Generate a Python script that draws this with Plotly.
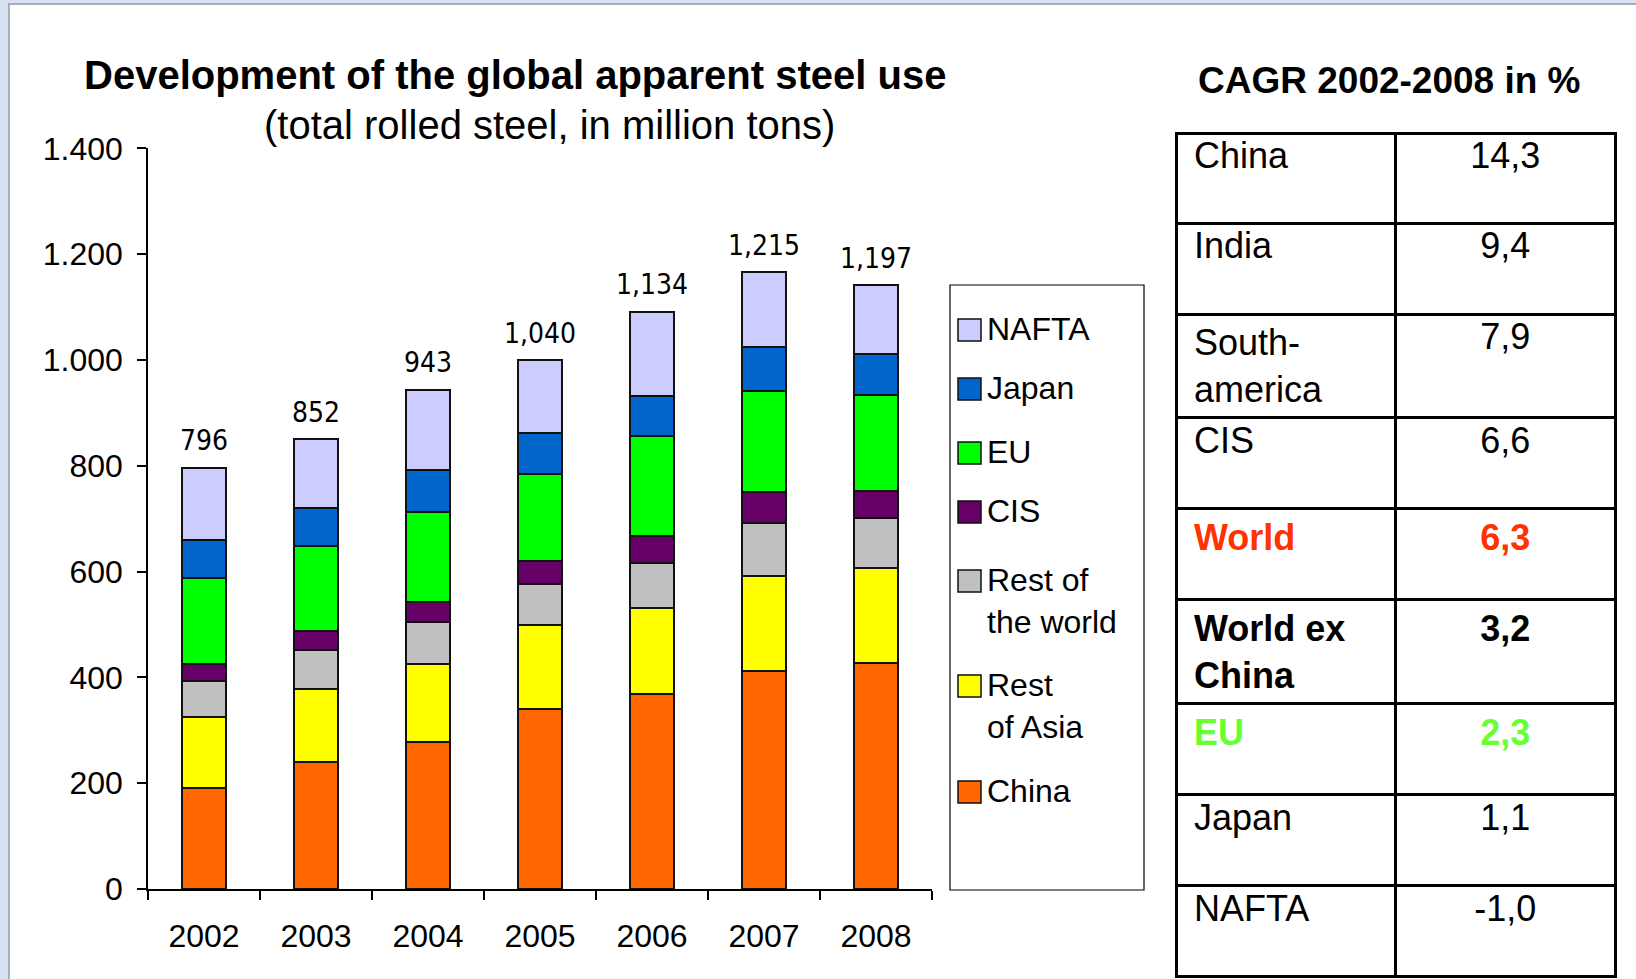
import plotly.graph_objects as go

# ---------------- data ----------------
years = ["2002", "2003", "2004", "2005", "2006", "2007", "2008"]
china = [191, 240, 277, 341, 369, 412, 427]
rest_of_asia = [135, 139, 149, 158, 162, 179, 179]
rest_of_world = [67, 72, 79, 78, 86, 100, 96]
cis = [33, 37, 38, 43, 50, 59, 51]
eu = [162, 160, 170, 165, 190, 192, 181]
japan = [71, 72, 79, 77, 75, 83, 77]
nafta = [137, 130, 152, 138, 159, 141, 130]
total_labels = ["796", "852", "943", "1,040", "1,134", "1,215", "1,197"]

y_tick_vals = [0, 200, 400, 600, 800, 1000, 1200, 1400]
y_tick_text = ["0", "200", "400", "600", "800", "1.000", "1.200", "1.400"]

series_names = ["China", "Rest<br>of Asia", "Rest of<br>the world", "CIS", "EU", "Japan", "NAFTA"]
series_values = [china, rest_of_asia, rest_of_world, cis, eu, japan, nafta]
series_colors = ["#FF6600", "#FFFF00", "#C0C0C0", "#660066", "#00FF00", "#0066CC", "#CCCCFF"]

cagr_title = "CAGR 2002-2008 in %"
cagr_regions = ["China", "India", "South-<br>america", "CIS", "World", "World ex<br>China", "EU", "Japan", "NAFTA"]
cagr_values = ["14,3", "9,4", "7,9", "6,6", "6,3", "3,2", "2,3", "1,1", "-1,0"]
cagr_bold = [False, False, False, False, True, True, True, False, False]
cagr_colors = ["#000000", "#000000", "#000000", "#000000", "#FF3300", "#000000", "#66FF33", "#000000", "#000000"]

chart_title = "Development of the global apparent steel use"
chart_subtitle = "(total rolled steel, in million tons)"

# ---------------- layout helpers ----------------
W, H = 1636, 979
FONT = "Liberation Sans, Arial, sans-serif"
NARROW = "DejaVu Sans Condensed, Liberation Sans Narrow, Arial Narrow, sans-serif"


def px(x):
    return x / W


def py(y):
    return 1 - y / H


fig = go.Figure()

for name, vals, col in zip(series_names, series_values, series_colors):
    fig.add_trace(go.Bar(
        x=years, y=vals, name=name.replace("<br>", " "),
        marker=dict(color=col, line=dict(color="#111111", width=2)),
        showlegend=False,
    ))

totals = [sum(v) for v in zip(*series_values)]
annotations = []
for i, (tot, lab) in enumerate(zip(totals, total_labels)):
    annotations.append(dict(
        x=i, y=tot, xref="x", yref="y", text=lab, showarrow=False,
        yanchor="middle", yshift=27,
        font=dict(family=NARROW, size=28, color="#000000"),
    ))

# titles
annotations.append(dict(x=px(515), y=py(75), xref="paper", yref="paper",
                        text="<b>" + chart_title + "</b>", showarrow=False,
                        xanchor="center", yanchor="middle",
                        font=dict(family=FONT, size=40, color="#000000")))
annotations.append(dict(x=px(549), y=py(125), xref="paper", yref="paper",
                        text=chart_subtitle, showarrow=False,
                        xanchor="center", yanchor="middle",
                        font=dict(family=FONT, size=40, color="#000000")))
annotations.append(dict(x=px(1389), y=py(81), xref="paper", yref="paper",
                        text="<b>" + cagr_title + "</b>", showarrow=False,
                        xanchor="center", yanchor="middle",
                        font=dict(family=FONT, size=37, color="#000000")))

shapes = []
# slide frame
shapes.append(dict(type="rect", xref="paper", yref="paper", x0=0, x1=px(8), y0=0, y1=1,
                   fillcolor="#D7E1F1", line=dict(width=0), layer="above"))
shapes.append(dict(type="rect", xref="paper", yref="paper", x0=0, x1=1, y0=py(3), y1=1,
                   fillcolor="#D7E1F1", line=dict(width=0), layer="above"))
shapes.append(dict(type="rect", xref="paper", yref="paper", x0=px(8), x1=px(10), y0=0, y1=py(3),
                   fillcolor="#A9ADB5", line=dict(width=0), layer="above"))
shapes.append(dict(type="rect", xref="paper", yref="paper", x0=px(8), x1=1, y0=py(5), y1=py(3),
                   fillcolor="#A9ADB5", line=dict(width=0), layer="above"))

# legend box
shapes.append(dict(type="rect", xref="paper", yref="paper", x0=px(950), x1=px(1144),
                   y0=py(890), y1=py(285), line=dict(color="#000000", width=1.2),
                   fillcolor="rgba(0,0,0,0)"))
legend_centers = [330, 389, 453, 512, 581, 686, 792]
for (name, col), cy in zip(list(zip(series_names, series_colors))[::-1], legend_centers):
    shapes.append(dict(type="rect", xref="paper", yref="paper",
                       x0=px(958), x1=px(981), y0=py(cy + 11), y1=py(cy - 11),
                       fillcolor=col, line=dict(color="#111111", width=1.5)))
    annotations.append(dict(x=px(985), y=py(cy - 21), xref="paper", yref="paper",
                            text=name, showarrow=False, xanchor="left", yanchor="top",
                            align="left",
                            font=dict(family=FONT, size=32, color="#000000")))

# CAGR table
def fmt(t, b):
    return "<b>" + t + "</b>" if b else t


NB = "\u00a0"
reg_txt = [NB + fmt(t, b).replace("<br>", "<br>" + NB) for t, b in zip(cagr_regions, cagr_bold)]
val_txt = [fmt(t, b) for t, b in zip(cagr_values, cagr_bold)]

fig.add_trace(go.Table(
    domain=dict(x=[px(1176), px(1615)], y=[0, py(133)]),
    columnwidth=[1, 1],
    header=dict(values=[reg_txt[0], val_txt[0]], height=90,
                align=["left", "center"],
                line=dict(color="#000000", width=3),
                fill=dict(color="#FFFFFF"),
                font=dict(family=FONT, size=36, color=[cagr_colors[0], cagr_colors[0]])),
    cells=dict(values=[reg_txt[1:], val_txt[1:]], height=91,
               align=["left", "center"],
               line=dict(color="#000000", width=3),
               fill=dict(color="#FFFFFF"),
               font=dict(family=FONT, size=36,
                         color=[cagr_colors[1:], cagr_colors[1:]])),
))

fig.update_layout(
    template="none",
    width=W, height=H, autosize=False,
    margin=dict(l=0, r=0, t=0, b=0, pad=0),
    paper_bgcolor="#FFFFFF", plot_bgcolor="#FFFFFF",
    barmode="stack", bargap=0.6,
    showlegend=False,
    font=dict(family=FONT, size=32, color="#000000"),
    xaxis=dict(domain=[px(148), px(932)], type="category", range=[-0.5, 6.5],
               automargin=False,
               showline=True, linecolor="#000000", linewidth=1.5,
               ticks="outside", tickson="boundaries", ticklen=9, tickcolor="#000000",
               tickwidth=1.5, showgrid=False, zeroline=False, tickangle=0,
               tickfont=dict(family=FONT, size=32, color="#000000"),
               ticklabelstandoff=18),
    yaxis=dict(domain=[py(889), py(148.4)], range=[0, 1400], automargin=False,
               tickvals=y_tick_vals, ticktext=y_tick_text,
               showline=True, linecolor="#000000", linewidth=1.5,
               ticks="outside", ticklen=9, tickcolor="#000000", tickwidth=1.5,
               showgrid=False, zeroline=False,
               tickfont=dict(family=FONT, size=32, color="#000000"),
               ticklabelstandoff=8),
    annotations=annotations,
    shapes=shapes,
)

fig.write_html("out.html",
               config={"displayModeBar": False},
               post_script="document.body.style.margin='0';document.body.style.overflow='hidden';")
